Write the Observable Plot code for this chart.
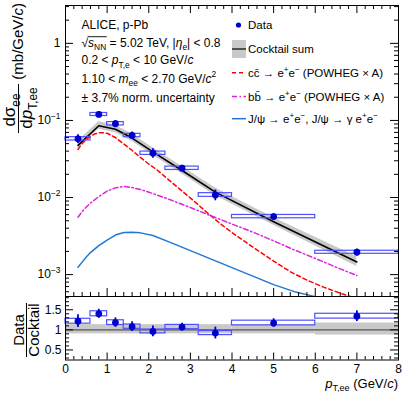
<!DOCTYPE html>
<html><head><meta charset="utf-8">
<script src="https://cdn.jsdelivr.net/npm/d3@7"></script>
<script src="https://cdn.jsdelivr.net/npm/@observablehq/plot@0.6"></script>
<style>
body{margin:0;background:#fff;}
#chart{position:relative;width:407px;height:396px;font-family:"Liberation Sans",Arial,sans-serif;}
#chart svg{position:absolute;left:0;}
</style></head><body><div id="chart"></div>
<script>
// ---------- data ----------
const binEdges = [0, 0.6, 1.0, 1.4, 1.8, 2.4, 3.2, 4.0, 6.0, 8.0];
const dataPt = [0.3, 0.8, 1.2, 1.6, 2.1, 2.8, 3.6, 5.0, 7.0];
const dataYield = [0.0578, 0.1196, 0.0906, 0.0638, 0.0376, 0.0240, 0.0108, 0.00566, 0.00195];
const dataStatRel = [0.13, 0.08, 0.10, 0.11, 0.14, 0.09, 0.16, 0.09, 0.10];
const dataSysRel = [0.05, 0.045, 0.05, 0.05, 0.05, 0.05, 0.055, 0.05, 0.045];
const cocktailSum = [0.0476, 0.0854, 0.0768, 0.0591, 0.0392, 0.0224, 0.01174, 0.00484, 0.00146];
const cocktailUpRel = [0.13, 0.13, 0.13, 0.13, 0.13, 0.13, 0.13, 0.13, 0.17];
const cocktailDnRel = [0.10, 0.10, 0.10, 0.10, 0.10, 0.10, 0.10, 0.10, 0.13];
const ratioVals = [1.215, 1.40, 1.18, 1.08, 0.96, 1.07, 0.92, 1.17, 1.34];

const charmPt = [0.3,0.4,0.5,0.6,0.7,0.8,0.9,1.0,1.2,1.4,1.6,1.8,2.0,2.2,2.5,2.8,3.1,3.4,3.7,4.0,4.3,4.6,5.0,5.4,5.8,6.2,6.6,7.0];
const charmVal = [0.0420,0.0503,0.0567,0.0620,0.0668,0.0692,0.0694,0.0682,0.0601,0.0495,0.0408,0.0331,0.0272,0.0228,0.0166,0.01215,0.00887,0.00639,0.00466,0.00351,0.00271,0.00209,0.00150,0.00109,0.000848,0.000688,0.000575,0.000488];
const beautyPt = [0.3,0.4,0.5,0.6,0.8,1.0,1.2,1.4,1.6,1.8,2.1,2.5,3.0,3.5,4.0,4.5,5.0,5.5,6.0,6.5,7.0];
const beautyVal = [0.00555,0.00658,0.00752,0.00848,0.0103,0.01215,0.01336,0.0139,0.01349,0.0127,0.01127,0.00942,0.00742,0.00578,0.00453,0.00356,0.00274,0.00209,0.00162,0.00125,0.00097];
const jpsiPt = [0.3,0.4,0.5,0.6,0.8,1.0,1.2,1.4,1.6,1.8,2.1,2.5,3.0,3.5,4.0,4.5,5.0,5.5,6.0,6.5,7.0];
const jpsiVal = [0.001244,0.001453,0.001688,0.00193,0.00238,0.00281,0.00326,0.00351,0.00354,0.00348,0.00321,0.00264,0.00205,0.00159,0.00123,0.000956,0.000742,0.000601,0.000518,0.00046,0.000414];

const yMajorTop = [1e-3, 1e-2, 1e-1, 1];
const yMajorTopLabels = ["10^{−3}", "10^{−2}", "10^{−1}", "1"];
const xMajor = [0,1,2,3,4,5,6,7,8];
const xTickLabels = ["0","1","2","3","4","5","6","7","8"];
const ratioMajor = [0.5, 1, 1.5];
const ratioLabels = ["0.5", "1", "1.5"];

const annotationLines = [
  "ALICE, p-Pb",
  "√*{s}_{NN} = 5.02 TeV, |*{η}_{e}| < 0.8",
  "0.2 < *{p}_{T,e} < 10 GeV/*{c}",
  "1.10 < *{m}_{ee} < 2.70 GeV/*{c}^{2}",
  "± 3.7% norm. uncertainty"
];
const legendLabels = [
  "Data",
  "Cocktail sum",
  "cc\u0304 → e^{+}e^{−} (POWHEG × A)",
  "bb\u0304 → e^{+}e^{−} (POWHEG × A)",
  "J/ψ → e^{+}e^{−}, J/ψ → γ e^{+}e^{−}"
];
const yTitleNum = "dσ_{ee}";
const yTitleDen = "d*{p}_{T,ee}";
const yTitleUnit = "(mb/GeV/*{c})";
const ratioTitleNum = "Data";
const ratioTitleDen = "Cocktail";
const xTitle = "*{p}_{T,ee} (GeV/*{c})";

// ---------- derived tables ----------
const dataRows = dataPt.map((pt, i) => ({pt, lo: binEdges[i], hi: binEdges[i+1], v: dataYield[i], stat: dataStatRel[i], sys: dataSysRel[i], r: ratioVals[i]}));
const cocktailRows = dataPt.map((pt, i) => ({pt, v: cocktailSum[i], lo: cocktailSum[i]*(1-cocktailDnRel[i]), hi: cocktailSum[i]*(1+cocktailUpRel[i])}));
const bandRows = dataPt.map((pt, i) => ({x1: binEdges[i], x2: binEdges[i+1], y1: 1-cocktailDnRel[i], y2: 1+cocktailUpRel[i]}));
const charmRows = charmPt.map((x, i) => ({x, y: charmVal[i]}));
const beautyRows = beautyPt.map((x, i) => ({x, y: beautyVal[i]}));
const jpsiRows = jpsiPt.map((x, i) => ({x, y: jpsiVal[i]}));

const xMinor = d3.range(0, 8.001, 0.2).map(v => +v.toFixed(2)).filter(v => Math.abs(v - Math.round(v)) > 1e-6);
const yMinorTop = [];
for (let k = -4; k <= 0; k++) for (let m = 2; m <= 9; m++) { const v = m * Math.pow(10, k); if (v > 5.2e-4 && v < 3.1) yMinorTop.push(v); }
const ratioMinor = d3.range(0.3, 1.81, 0.1).map(v => +v.toFixed(2)).filter(v => !ratioMajor.includes(v));

// ---------- rich text helper ----------
const NS = "http://www.w3.org/2000/svg";
function parseRich(s) {
  const out = []; let buf = ""; let i = 0;
  const flush = () => { if (buf) { out.push({text: buf, mode: "n", italic: false}); buf = ""; } };
  while (i < s.length) {
    const c = s[i];
    if ((c === "_" || c === "^" || c === "*") && s[i+1] === "{") {
      const j = s.indexOf("}", i + 2);
      flush();
      out.push({text: s.slice(i+2, j), mode: c === "_" ? "sub" : c === "^" ? "sup" : "n", italic: c === "*"});
      i = j + 1;
    } else { buf += c; i++; }
  }
  flush();
  return out;
}
function richify(el, base) {
  const s = el.textContent;
  if (!/[_^*]\{/.test(s)) return;
  const segs = parseRich(s);
  while (el.firstChild) el.removeChild(el.firstChild);
  let shift = 0;
  for (const seg of segs) {
    const t = document.createElementNS(NS, "tspan");
    const target = seg.mode === "sub" ? 0.3 * base : seg.mode === "sup" ? -0.42 * base : 0;
    const dy = target - shift;
    if (Math.abs(dy) > 1e-6) t.setAttribute("dy", dy.toFixed(2));
    shift = target;
    if (seg.mode !== "n") t.setAttribute("font-size", (0.7 * base).toFixed(2));
    if (seg.italic) t.setAttribute("font-style", "italic");
    t.textContent = seg.text;
    el.appendChild(t);
  }
}
function addText(parent, str, x, y, size, anchor = "start", transform = null) {
  const t = document.createElementNS(NS, "text");
  t.setAttribute("x", x); t.setAttribute("y", y);
  t.setAttribute("font-size", size);
  t.setAttribute("text-anchor", anchor);
  t.setAttribute("fill", "#000");
  t.setAttribute("font-family", "Liberation Sans, Arial, sans-serif");
  if (transform) t.setAttribute("transform", transform);
  t.textContent = str;
  parent.appendChild(t);
  richify(t, size);
  return t;
}

const font = {fontFamily: "Liberation Sans, Arial, sans-serif", fontSize: "12px", color: "#000", background: "transparent"};

// ---------- top panel ----------
const TW = 407, TH = 297, ML = 65, MR = 9, MT = 5, MB = 1;
const FW = TW - ML - MR, FH = TH - MT - MB;
const topPlot = Plot.plot({
  width: TW, height: TH, marginLeft: ML, marginRight: MR, marginTop: MT, marginBottom: MB,
  style: font,
  x: {domain: [0, 8], axis: null},
  y: {type: "log", domain: [5.2e-4, 3.1]},
  marks: [
    Plot.areaY(cocktailRows, {x: "pt", y1: "lo", y2: "hi", fill: "#c9c9c9"}),
    Plot.line(cocktailRows, {x: "pt", y: "v", stroke: "#000", strokeWidth: 1.6}),
    Plot.line(charmRows, {x: "x", y: "y", stroke: "#ff0000", strokeWidth: 1.5, strokeDasharray: "4,3", clip: true}),
    Plot.line(beautyRows, {x: "x", y: "y", stroke: "#dd22dd", strokeWidth: 1.5, strokeDasharray: "5,2.5,1.5,2.5", clip: true}),
    Plot.line(jpsiRows, {x: "x", y: "y", stroke: "#1f78d4", strokeWidth: 1.5, clip: true}),
    Plot.rect(dataRows, {x1: "lo", x2: "hi", y1: d => d.v * (1 - d.sys), y2: d => d.v * (1 + d.sys), fill: "none", stroke: "#5050ff", strokeWidth: 1.2}),
    Plot.ruleX(dataRows, {x: "pt", y1: d => d.v * (1 - d.stat), y2: d => d.v * (1 + d.stat), stroke: "#0000cc", strokeWidth: 1.8}),
    Plot.dot(dataRows, {x: "pt", y: "v", r: 3.4, fill: "#0000cc", stroke: "none"}),
    // inward ticks
    Plot.tickX(xMajor, {x: d => d, insetTop: FH - 8, stroke: "#000"}),
    Plot.tickX(xMinor, {x: d => d, insetTop: FH - 4, stroke: "#000"}),
    Plot.tickX(xMajor, {x: d => d, insetBottom: FH - 8, stroke: "#000"}),
    Plot.tickX(xMinor, {x: d => d, insetBottom: FH - 4, stroke: "#000"}),
    Plot.tickY(yMajorTop, {y: d => d, insetRight: FW - 8, stroke: "#000"}),
    Plot.tickY(yMinorTop, {y: d => d, insetRight: FW - 4, stroke: "#000"}),
    Plot.tickY(yMajorTop, {y: d => d, insetLeft: FW - 8, stroke: "#000"}),
    Plot.tickY(yMinorTop, {y: d => d, insetLeft: FW - 4, stroke: "#000"}),
    Plot.frame({stroke: "#000", strokeWidth: 1}),
    Plot.axisY({ticks: yMajorTop, tickSize: 0, tickPadding: 5, label: null, tickFormat: d => yMajorTopLabels[yMajorTop.indexOf(d)]})
  ]
});
topPlot.style.top = "0px";

// ---------- ratio panel ----------
const RH = 100, RMT = 0, RMB = 36.5;
const RFH = RH - RMT - RMB;
const ratioPlot = Plot.plot({
  width: TW, height: RH, marginLeft: ML, marginRight: MR, marginTop: RMT, marginBottom: RMB,
  style: font,
  x: {domain: [0, 8]},
  y: {domain: [0.25, 1.83]},
  marks: [
    Plot.rect(bandRows, {x1: "x1", x2: "x2", y1: "y1", y2: "y2", fill: "#c9c9c9"}),
    Plot.ruleY([1], {stroke: "#555", strokeWidth: 1.2}),
    Plot.rect(dataRows, {x1: "lo", x2: "hi", y1: d => d.r * (1 - d.sys), y2: d => d.r * (1 + d.sys), fill: "none", stroke: "#5050ff", strokeWidth: 1.2}),
    Plot.ruleX(dataRows, {x: "pt", y1: d => d.r * (1 - d.stat), y2: d => d.r * (1 + d.stat), stroke: "#0000cc", strokeWidth: 1.8}),
    Plot.dot(dataRows, {x: "pt", y: "r", r: 3.4, fill: "#0000cc", stroke: "none"}),
    Plot.tickX(xMajor, {x: d => d, insetTop: RFH - 7, stroke: "#000"}),
    Plot.tickX(xMinor, {x: d => d, insetTop: RFH - 3.5, stroke: "#000"}),
    Plot.tickY(ratioMajor, {y: d => d, insetRight: FW - 8, stroke: "#000"}),
    Plot.tickY(ratioMinor, {y: d => d, insetRight: FW - 4, stroke: "#000"}),
    Plot.tickY(ratioMajor, {y: d => d, insetLeft: FW - 8, stroke: "#000"}),
    Plot.tickY(ratioMinor, {y: d => d, insetLeft: FW - 4, stroke: "#000"}),
    Plot.frame({stroke: "#000", strokeWidth: 1}),
    Plot.axisX({ticks: xMajor, tickSize: 0, tickPadding: 4, label: null, tickFormat: d => xTickLabels[xMajor.indexOf(d)]}),
    Plot.axisY({ticks: ratioMajor, tickSize: 0, tickPadding: 4, label: null, tickFormat: d => ratioLabels[ratioMajor.indexOf(d)]})
  ]
});
ratioPlot.style.top = "296px";

const chart = document.getElementById("chart");
chart.appendChild(topPlot);
chart.appendChild(ratioPlot);

// rich tick labels
topPlot.querySelectorAll("text").forEach(t => richify(t, 12));
ratioPlot.querySelectorAll("text").forEach(t => richify(t, 12));

// ---------- annotations (top panel) ----------
const annBase = [29.3, 46.5, 64.3, 82.5, 101.7];
const gA = document.createElementNS(NS, "g");
topPlot.appendChild(gA);
const annTexts = annotationLines.map((s, i) => addText(gA, s, 81.5, annBase[i], 12));
// radical overline over s_NN
try {
  const t = annTexts[1];
  const r0 = t.getExtentOfChar(0), r3 = t.getExtentOfChar(3);
  d3.select(gA).append("line")
    .attr("x1", r0.x + r0.width - 0.6).attr("x2", r3.x + r3.width + 0.5)
    .attr("y1", r0.y + 1.2).attr("y2", r0.y + 1.2)
    .attr("stroke", "#000").attr("stroke-width", 0.9);
} catch (e) {}

// legend
const legY = [25, 49, 72.7, 96.5, 118.7];
const gL = d3.select(topPlot).append("g");
gL.append("circle").attr("cx", 238.5).attr("cy", legY[0]).attr("r", 2.6).attr("fill", "#0000cc");
gL.append("rect").attr("x", 232).attr("y", 40).attr("width", 14).attr("height", 18).attr("fill", "#c9c9c9");
gL.append("line").attr("x1", 232).attr("x2", 246).attr("y1", legY[1]).attr("y2", legY[1]).attr("stroke", "#000").attr("stroke-width", 1.2);
gL.append("line").attr("x1", 232).attr("x2", 246).attr("y1", legY[2]).attr("y2", legY[2]).attr("stroke", "#ff0000").attr("stroke-width", 1.5).attr("stroke-dasharray", "4,3");
gL.append("line").attr("x1", 232).attr("x2", 246).attr("y1", legY[3]).attr("y2", legY[3]).attr("stroke", "#dd22dd").attr("stroke-width", 1.5).attr("stroke-dasharray", "5,2.5,1.5,2.5");
gL.append("line").attr("x1", 232).attr("x2", 246).attr("y1", legY[4]).attr("y2", legY[4]).attr("stroke", "#1f78d4").attr("stroke-width", 1.5);
legendLabels.forEach((s, i) => addText(gL.node(), s, 248, legY[i] + 4.2, 11.5));

// y title (top): rotated fraction + unit
const gY = document.createElementNS(NS, "g");
topPlot.appendChild(gY);
addText(gY, yTitleUnit, 0, 0, 15, "end", "translate(22.5,3) rotate(-90)");
addText(gY, yTitleNum, 0, 0, 17, "middle", "translate(14.5,110) rotate(-90)");
addText(gY, yTitleDen, 0, 0, 17, "middle", "translate(31.5,108) rotate(-90)");
d3.select(gY).append("line").attr("x1", 18.5).attr("x2", 18.5).attr("y1", 84).attr("y2", 133).attr("stroke", "#000").attr("stroke-width", 1);

// ratio title and x title
const gR = document.createElementNS(NS, "g");
ratioPlot.appendChild(gR);
addText(gR, ratioTitleNum, 0, 0, 15, "middle", "translate(24,34) rotate(-90)");
addText(gR, ratioTitleDen, 0, 0, 15, "middle", "translate(38.5,34) rotate(-90)");
d3.select(gR).append("line").attr("x1", 26.5).attr("x2", 26.5).attr("y1", 7).attr("y2", 61).attr("stroke", "#000").attr("stroke-width", 1);
addText(gR, xTitle, 398, 91.5, 13, "end");
</script></body></html>
